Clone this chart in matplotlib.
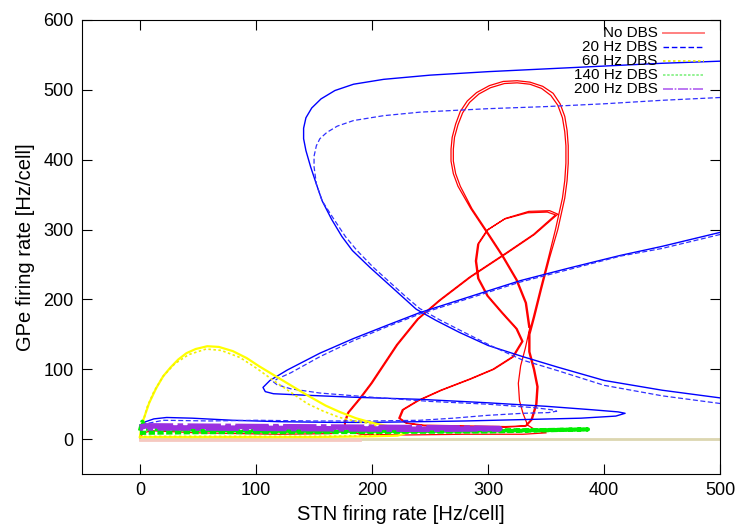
import matplotlib
matplotlib.use("Agg")
import matplotlib.pyplot as plt

plt.rcParams['font.family'] = ['Liberation Sans', 'DejaVu Sans']

# phase-plane trajectories: (STN rate, GPe rate)
red_path = [
    (0, 2), (3, 9), (10, 12), (50, 9), (120, 7), (165, 8), (176, 14), (177, 24),
    (180, 38), (190, 58), (200, 80), (210, 105), (222, 135), (240, 172), (259, 199),
    (285, 232), (316, 266), (340, 293), (360, 322),
    (353, 327), (335, 326), (315, 316), (300, 300), (292, 280), (290, 255), (292, 230),
    (300, 205), (313, 180), (325, 158), (330, 140),
    (322, 118), (305, 100), (285, 86), (260, 70), (240, 55), (227, 42), (224, 30),
    (230, 23), (245, 20), (280, 19), (315, 18), (332, 19),
    (337, 28), (341, 50), (342, 75), (339, 100), (335, 125), (335, 150),
    (339, 175), (345, 215), (352, 260), (358, 300), (364, 345), (366, 370), (367, 395),
    (367, 420), (366, 440), (364, 460), (360, 478), (354, 492), (346, 502), (336, 508),
    (325, 510), (314, 509), (302, 503), (292, 494), (284, 482), (278, 467), (274, 450),
    (271, 432), (270, 415), (270, 398), (272, 380), (276, 362), (286, 330), (300, 295),
    (313, 262), (325, 228), (333, 195), (336, 160), (332, 130), (328, 105), (326, 80),
    (327, 55), (330, 37), (334, 20), (342, 12), (350, 9), (330, 7), (280, 7), (230, 6),
    (190, 7), (178, 12), (176, 24),
    (179, 38), (189, 58), (199, 80), (209, 105), (221, 135), (239, 172), (258, 199),
    (284, 232), (315, 266), (339, 293), (358, 321), (351, 325), (334, 324), (314, 315),
    (299, 299), (291, 279), (289, 255), (291, 230), (299, 205), (312, 180), (324, 158),
    (329, 140), (321, 118), (304, 100), (284, 86), (259, 70), (239, 55), (226, 42),
    (223, 30), (229, 23), (245, 19), (280, 18), (315, 17), (333, 19), (338, 28),
    (342, 50), (343, 75), (340, 100), (336, 125), (336, 150), (340, 175), (346, 215),
    (353, 260), (360, 300), (366, 345), (368, 370), (369, 395), (369, 420), (368, 442),
    (366, 462), (362, 480), (356, 495), (347, 505), (336, 511), (325, 513), (313, 512),
    (301, 506), (290, 496), (282, 484), (276, 469), (272, 451), (269, 432), (268, 415),
    (268, 398), (270, 380), (274, 362), (285, 330), (299, 295), (312, 262), (324, 228),
    (332, 195), (335, 160),
]

blue_top = [
    (500, 541), (450, 538), (400, 534), (350, 530), (300, 526), (250, 521), (210, 515),
    (184, 508), (168, 499), (156, 487), (148, 474), (143, 460), (141, 445), (141, 430),
    (143, 413), (147, 390), (152, 365), (157, 341), (165, 315), (174, 290), (183, 270),
    (198, 246), (212, 225), (226, 204), (238, 186), (255, 170), (275, 153), (300, 134),
    (330, 118), (360, 103), (400, 84), (450, 70), (500, 59),
]
blue_low = [
    (500, 296), (450, 276), (414, 263), (370, 245), (328, 227), (290, 207), (241, 181),
    (213, 163), (184, 144), (155, 123), (127, 99), (112, 84), (106, 74), (108, 68),
    (115, 65), (141, 63), (184, 60), (241, 57), (300, 52), (350, 47), (390, 42),
    (412, 39), (418, 37), (410, 33), (380, 30), (330, 28), (280, 26), (241, 25),
    (200, 24), (166, 24), (120, 25), (80, 27), (45, 30), (23, 31), (12, 29), (5, 25),
    (0, 20),
]
blue_top_dash = [
    (500, 489), (450, 485), (400, 480), (350, 476), (300, 473), (241, 468), (210, 463),
    (184, 456), (170, 448), (161, 439), (155, 430), (152, 420), (150, 405), (150, 390),
    (152, 365), (157, 341), (167, 315), (177, 290), (187, 270), (201, 246), (215, 225),
    (229, 204), (241, 187), (258, 171), (278, 154), (302, 134), (330, 113), (360, 98),
    (400, 77), (450, 62), (500, 51),
]
blue_low_dash = [
    (500, 293), (450, 273), (414, 262), (370, 243), (328, 225), (290, 205), (241, 179),
    (213, 161), (184, 141), (155, 118), (130, 95), (118, 86), (115, 82), (118, 78),
    (130, 72), (155, 66), (200, 60), (250, 54), (300, 50), (340, 45), (355, 42),
    (359, 40), (352, 38), (330, 37), (299, 34), (270, 30), (241, 27), (200, 26),
    (150, 26), (100, 27), (60, 26), (20, 27), (5, 22), (0, 18),
]
yellow_path = [
    (0, 3), (1, 15), (3, 28), (8, 52), (14, 73), (20, 90), (26, 102), (33, 114),
    (40, 123), (48, 129), (58, 133), (68, 132), (80, 126), (92, 116), (103, 104),
    (115, 92), (127, 80), (144, 63), (160, 48), (172, 39), (186, 30), (201, 23),
    (215, 18), (225, 13), (228, 8), (222, 5), (200, 4), (150, 3), (100, 3), (50, 3),
    (0, 3),
]
yellow_dot = [
    (0, 3), (2, 20), (6, 45), (12, 68), (20, 90), (30, 108), (42, 121), (57, 129),
    (70, 127), (86, 117), (100, 102), (115, 84), (130, 67), (144, 51), (158, 40),
    (172, 31), (185, 26), (196, 23), (205, 18), (210, 10), (200, 5), (150, 4), (80, 4),
    (0, 4),
]
green_path = [
    (0, 12), (2, 25), (5, 15), (100, 12), (250, 12), (350, 13), (386, 14), (300, 11),
    (150, 10), (50, 10), (0, 9),
]
purple_path = [
    (0, 17), (5, 19), (100, 18), (200, 17), (280, 16), (310, 15), (250, 14), (150, 15),
    (50, 16), (0, 16),
]
tan_path = [(0, 0), (500, 0)]
pink_path = [(0, -1), (190, -1)]

legend_labels = ["No DBS", "20 Hz DBS", "60 Hz DBS", "140 Hz DBS", "200 Hz DBS"]


def xy(path):
    return [p[0] for p in path], [p[1] for p in path]


fig = plt.figure(figsize=(7.38, 5.25), dpi=100)
ax = fig.add_axes([0.111, 0.097, 0.865, 0.865])

ax.plot(*xy(tan_path), color='#dcd6b0', lw=2)
ax.plot(*xy(pink_path), color='#f6c8c0', lw=2)
ax.plot(*xy(red_path), color='#ff0000', lw=0.9)
ax.plot(*xy(blue_top), color='#0000ff', lw=1.0)
ax.plot(*xy(blue_low), color='#0000ff', lw=1.0)
ax.plot(*xy(blue_top_dash), color='#3030ff', lw=0.9, ls=(0, (4, 2)))
ax.plot(*xy(blue_low_dash), color='#3030ff', lw=0.9, ls=(0, (4, 2)))
ax.plot(*xy(yellow_path), color='#ffff00', lw=1.6)
ax.plot(*xy(yellow_dot), color='#f0f000', lw=1.2, ls=(0, (1.5, 1.5)))
ax.plot(*xy(green_path), color='#00ee00', lw=3.0, ls=(0, (1.5, 0.6)))
ax.plot(*xy(purple_path), color='#9a30e0', lw=4.0, ls=(0, (6, 0.8, 1, 0.8)))

ax.set_xlim(-50, 500)
ax.set_ylim(-50, 600)
ax.set_xticks([0, 100, 200, 300, 400, 500])
ax.set_yticks([0, 100, 200, 300, 400, 500, 600])
ax.tick_params(direction='in', top=True, right=True, length=7, labelsize=13, pad=6)
ax.set_xlabel("STN firing rate [Hz/cell]", fontsize=14.5, labelpad=4)
ax.set_ylabel("GPe firing rate [Hz/cell]", fontsize=14.5, labelpad=6)

# legend drawn by hand: right-aligned text, sample line after it
leg_styles = [
    dict(color='#ff8080', lw=1.4, ls='-'),
    dict(color='#0000ff', lw=1.0, ls=(0, (4, 2))),
    dict(color='#e8e800', lw=1.2, ls=(0, (1.5, 1.5))),
    dict(color='#80f080', lw=1.2, ls=(0, (1.5, 1))),
    dict(color='#b060f0', lw=1.2, ls=(0, (6, 1, 1, 1))),
]
for i, (lab, st) in enumerate(zip(legend_labels, leg_styles)):
    yy = 0.972 - i * 0.0308
    ax.text(0.902, yy, lab, transform=ax.transAxes, ha='right', va='center', fontsize=11)
    ax.plot([0.911, 0.975], [yy, yy], transform=ax.transAxes, **st)

fig.savefig("out.png", dpi=100)
